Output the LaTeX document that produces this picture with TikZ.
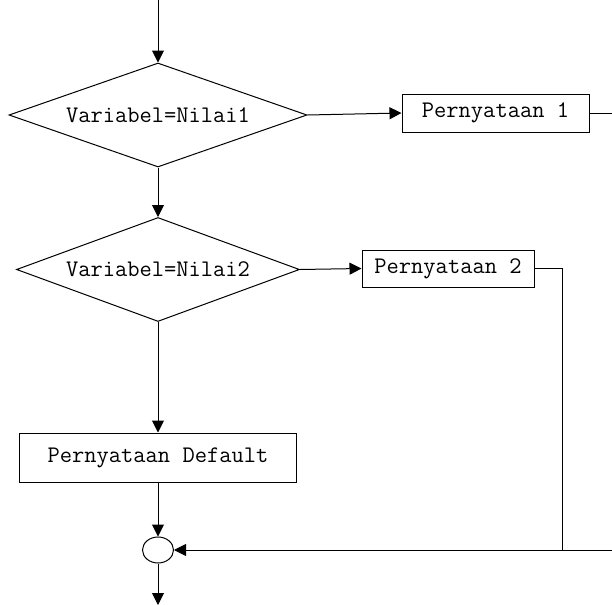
\documentclass[tikz,border=0pt]{standalone}
\usetikzlibrary{calc, shapes.geometric, arrows.meta}

\begin{document}
\begin{tikzpicture}[x=.5pt, y=-.5pt, line width=.5pt, >={Triangle[length=6pt, width=6pt]}]
    \tikzstyle{decision} = [diamond, draw, aspect=3, inner sep=0pt, minimum height=52pt, font=\ttfamily\fontsize{11.9}{13}\selectfont]
    \tikzstyle{statement} = [rectangle, draw, inner sep=0pt, font=\ttfamily\fontsize{11.9}{13}\selectfont]
    \tikzstyle{joint} = [ellipse, draw, inner sep=0pt, minimum width=15.5pt, minimum height=13pt]

    \useasboundingbox (0, 0) rectangle (612, 605);
    \clip (0, 0) rectangle (612, 605);

    % Decisions ----------------------------------------
    \coordinate (start) at (158, 0);
    \node (D1) at (158, 115) [decision, minimum width=149pt] {Variabel=Nilai1};
    \node (D2) at (158, 269.5) [decision, minimum width=141.5pt] {Variabel=Nilai2};

    % Statements
    \node (S1) at (495.5, 113) [statement, minimum width=93.5pt, minimum height=19pt] {Pernyataan 1};
    \node (S2) at (448, 268.5) [statement, minimum width=86pt, minimum height=18.5pt] {Pernyataan 2};
    \node (SD) at (158, 457.5) [statement, minimum width=138.5pt, minimum height=24.5pt] {Pernyataan Default};

    % Join and exits
    \node (J) at (158, 550) [joint] {};
    \coordinate (end) at (158, 605);
    \coordinate (out1) at (612, 113);
    \coordinate (in1) at (612, 550);
    \coordinate (turn2) at (562, 268.5);
    % ---------------------------------------------------

    % Connectors
    \draw [->] (start) -- (D1.north);
    \draw [->] (D1.east) -- (S1.west);
    \draw (S1.east) -- (out1);
    \draw [->] (D1.south) -- (D2.north);
    \draw [->] (D2.east) -- (S2.west);
    \draw (S2.east) -- (turn2) -- (turn2 |- J);
    \draw [->] (D2.south) -- (SD.north);
    \draw [->] (SD.south) -- (J.north);
    \draw [->] (in1) -- (J.east);
    \draw [->] (J.south) -- (end);
\end{tikzpicture}
\end{document}
